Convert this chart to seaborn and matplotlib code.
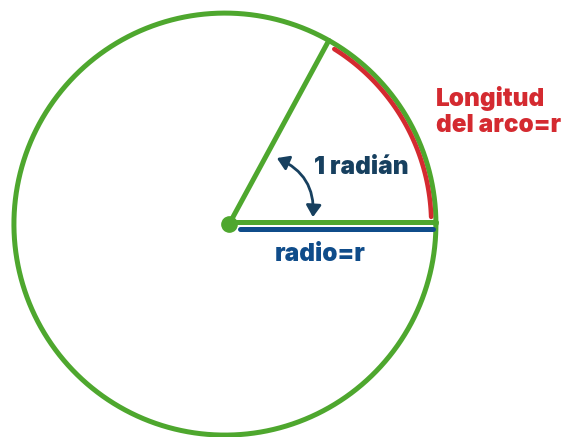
import numpy as np
import matplotlib
matplotlib.use("Agg")
import matplotlib.pyplot as plt
import seaborn as sns
from matplotlib.patches import FancyArrowPatch

# geometry (unit circle, angles in degrees)
radius = 1.0
center_dot = (0.02, 0.0)
spoke_angle = 60.5
arc_radius = 0.978
arc_span = [2.0, 58.0]
radio_line_x = [0.07, 0.985]
radio_line_y = -0.024
arrow_from = (0.246, 0.313)
arrow_to = (0.417, 0.033)

label_angle = "1 radián"
label_radius = "radio=r"
label_arc = ["Longitud", "del arco=r"]

green = "#4ea72e"
red = "#d42a30"
blue = "#0f4c8a"
navy = "#17405f"

sns.set_theme(style="white")
plt.rcParams["font.family"] = ["Inter", "DejaVu Sans"]

fig, ax = plt.subplots(figsize=(5.64, 4.37), dpi=100)
fig.subplots_adjust(0, 0, 1, 1)

def line(x, y, **kw):
    sns.lineplot(x=x, y=y, sort=False, estimator=None, ax=ax, **kw)

t = np.linspace(0, 2 * np.pi, 400)
line(radius * np.cos(t), radius * np.sin(t), color=green, lw=3.6)

ta = np.radians(np.linspace(arc_span[0], arc_span[1], 100))
line(arc_radius * np.cos(ta), arc_radius * np.sin(ta), color=red, lw=3.3,
     solid_capstyle="round")

a = np.radians(spoke_angle)
line([center_dot[0], radius * np.cos(a)], [center_dot[1], radius * np.sin(a)],
     color=green, lw=3.6)
line([center_dot[0], radius], [0.012, 0.012], color=green, lw=3.6)
line(radio_line_x, [radio_line_y, radio_line_y], color=blue, lw=3.6,
     solid_capstyle="round")
ax.plot(*center_dot, "o", color=green, ms=11)

ax.add_patch(FancyArrowPatch(arrow_from, arrow_to, connectionstyle="arc3,rad=-0.35",
                             arrowstyle="<|-|>,head_length=7,head_width=4.5",
                             color=navy, lw=2, shrinkA=0, shrinkB=0))

fs = 17.5
w = "black"
ax.text(0.648, 0.268, label_angle, color=navy, fontsize=fs, fontweight=w,
        ha="center", va="center")
ax.text(0.452, -0.142, label_radius, color=blue, fontsize=fs, fontweight=w,
        ha="center", va="center")
ax.text(1.0, 0.597, label_arc[0], color=red, fontsize=fs, fontweight=w,
        ha="left", va="center")
ax.text(1.0, 0.469, label_arc[1], color=red, fontsize=fs, fontweight=w,
        ha="left", va="center")

ax.set_xlim(-1.066, 1.607)
ax.set_ylim(-1.009, 1.062)
ax.set_aspect("equal")
ax.axis("off")
fig.savefig("out.png", dpi=100)
